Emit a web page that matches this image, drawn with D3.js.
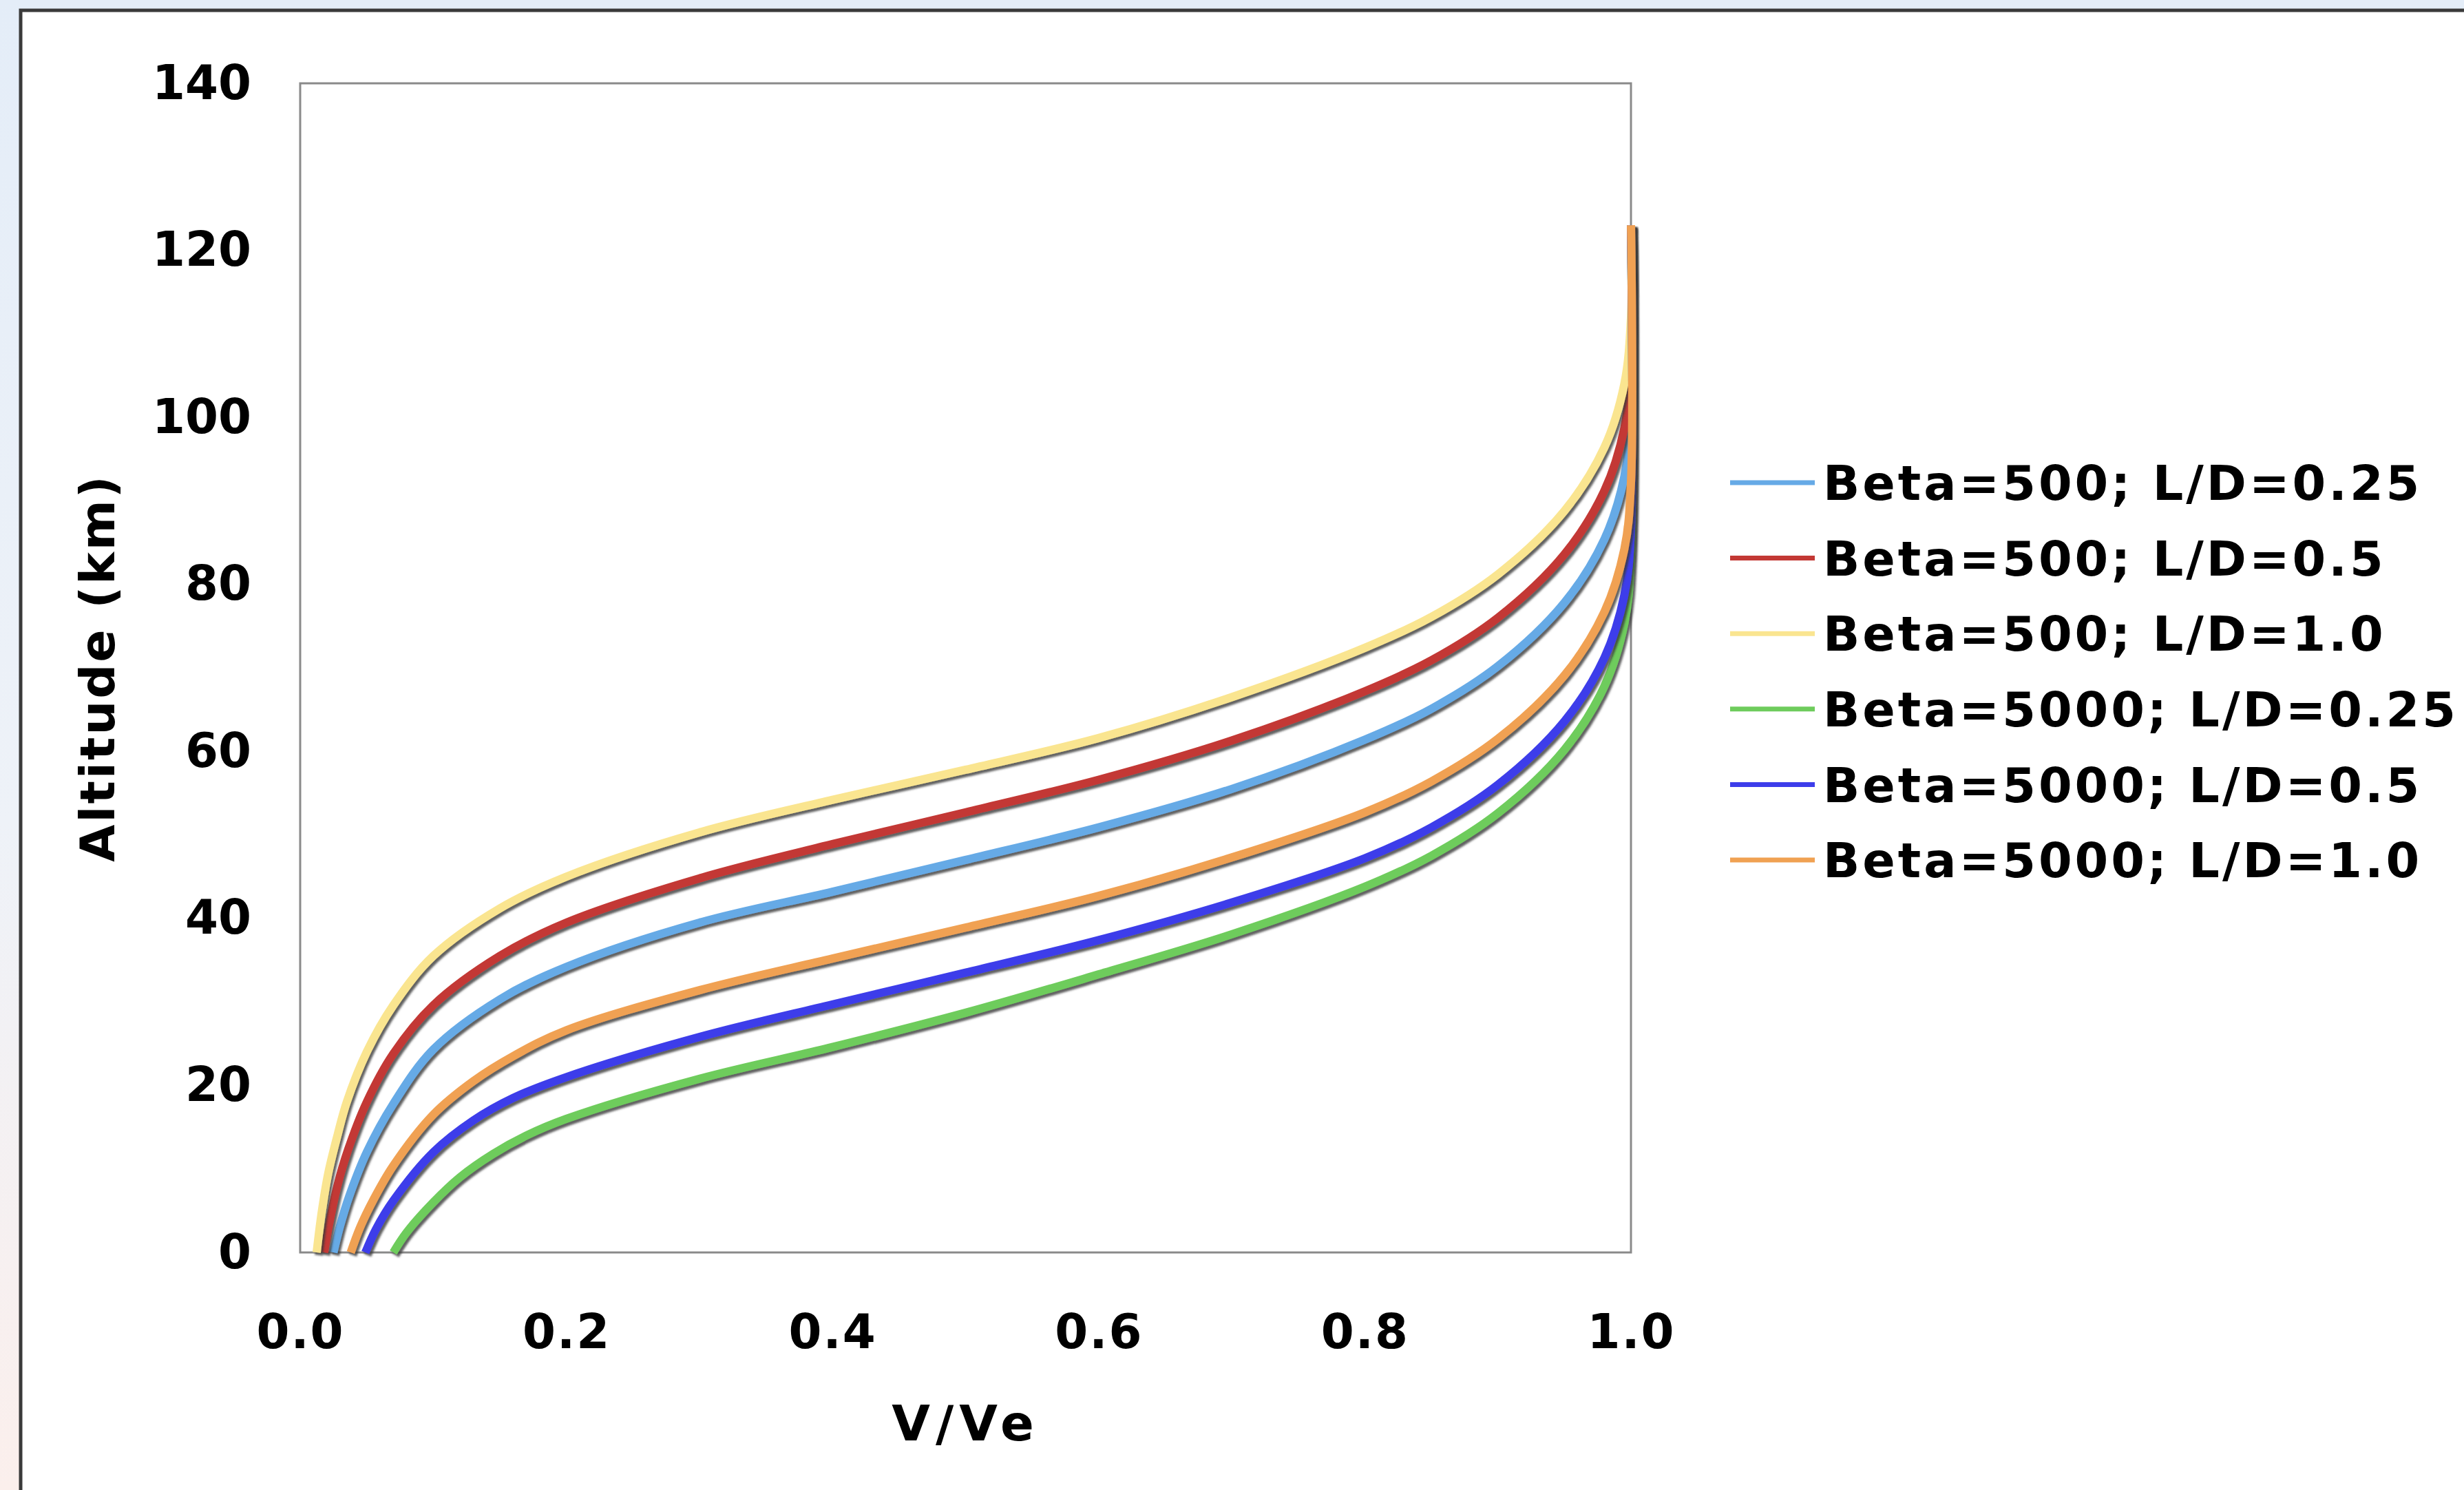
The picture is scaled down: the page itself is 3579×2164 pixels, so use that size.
<!DOCTYPE html>
<html>
<head>
<meta charset="utf-8">
<script src="https://cdn.jsdelivr.net/npm/d3@7"></script>
<style>
html, body { margin: 0; padding: 0; overflow: hidden; background: #ffffff; }
svg { display: block; }
</style>
</head>
<body>
<svg id="chart" width="3579" height="2164"></svg>
<script>
// ---------------- DATA ----------------
const seriesNames = [
  "Beta=500; L/D=0.25",
  "Beta=500; L/D=0.5",
  "Beta=500; L/D=1.0",
  "Beta=5000; L/D=0.25",
  "Beta=5000; L/D=0.5",
  "Beta=5000; L/D=1.0"
];
const seriesColors = ["#66AAE6", "#C33834", "#FAE590", "#6ECC5C", "#3D3DEA", "#F0A152"];

// V/Ve and altitude (km) pairs for each series
const vVe_B500_LD025  = [0.025, 0.030, 0.037, 0.050, 0.070, 0.100, 0.150, 0.200, 0.300, 0.400, 0.500, 0.600, 0.700, 0.800, 0.850, 0.900, 0.950, 0.980, 0.995, 1.000, 1.000];
const alt_B500_LD025  = [0.0,   3.2,   6.8,   12.0,  17.8,  24.3,  30.3,  34.2,  39.5,  43.2,  47.0,  50.9,  55.5,  61.4,  65.1,  70.2,  77.8,  85.4,  92.9,  100.9, 123.0];

const vVe_B500_LD05   = [0.018, 0.022, 0.028, 0.036, 0.050, 0.070, 0.100, 0.150, 0.200, 0.300, 0.400, 0.500, 0.600, 0.700, 0.800, 0.850, 0.900, 0.950, 0.980, 0.995, 1.000, 1.000];
const alt_B500_LD05   = [0.0,   3.6,   8.0,   12.3,  18.0,  23.8,  29.6,  35.5,  39.5,  44.8,  48.9,  52.7,  56.6,  61.3,  67.2,  70.9,  76.0,  83.6,  91.2,  98.7,  106.7, 123.0];

const vVe_B500_LD10   = [0.0124, 0.016, 0.021, 0.028, 0.035, 0.050, 0.070, 0.100, 0.150, 0.200, 0.300, 0.400, 0.500, 0.600, 0.700, 0.800, 0.850, 0.900, 0.950, 0.980, 0.995, 1.000, 1.000];
const alt_B500_LD10   = [0.0,    4.6,   9.4,   14.0,  18.0,  24.0,  29.6,  35.5,  41.2,  45.0,  50.3,  54.2,  57.8,  61.6,  66.5,  72.4,  76.1,  81.2,  88.8,  96.4,  104.0, 112.0, 123.0];

const vVe_B5000_LD025 = [0.070, 0.080, 0.100, 0.120, 0.145, 0.170, 0.200, 0.300, 0.400, 0.500, 0.600, 0.700, 0.800, 0.850, 0.900, 0.950, 0.980, 0.995, 1.000, 1.000];
const alt_B5000_LD025 = [0.0,   2.4,   6.0,   9.0,   11.8,  14.0,  16.0,  20.8,  24.6,  28.7,  33.3,  38.1,  43.8,  47.5,  52.6,  60.2,  67.8,  75.3,  83.3,  123.0];

const vVe_B5000_LD05  = [0.049, 0.057, 0.070, 0.100, 0.130, 0.160, 0.200, 0.300, 0.400, 0.500, 0.600, 0.700, 0.800, 0.850, 0.900, 0.950, 0.980, 0.995, 1.000, 1.000];
const alt_B5000_LD05  = [0.0,   2.8,   6.2,   12.0,  15.8,  18.5,  21.0,  25.8,  29.7,  33.5,  37.4,  41.9,  47.2,  50.9,  56.0,  63.6,  71.2,  78.7,  86.7,  123.0];

const vVe_B5000_LD10  = [0.038, 0.045, 0.055, 0.070, 0.100, 0.130, 0.160, 0.200, 0.300, 0.400, 0.500, 0.600, 0.700, 0.800, 0.850, 0.900, 0.950, 0.980, 0.995, 1.000, 1.000];
const alt_B5000_LD10  = [0.0,   3.0,   6.3,   10.4,  16.5,  20.5,  23.5,  26.6,  31.4,  35.2,  38.9,  42.7,  47.3,  52.7,  56.4,  61.5,  69.1,  76.7,  84.2,  92.2,  123.0];

const xTickValues = [0.0, 0.2, 0.4, 0.6, 0.8, 1.0];
const yTickValues = [0, 20, 40, 60, 80, 100, 120, 140];
const xAxisTitle = "V/Ve";
const yAxisTitle = "Altitude (km)";

const seriesX = [vVe_B500_LD025, vVe_B500_LD05, vVe_B500_LD10, vVe_B5000_LD025, vVe_B5000_LD05, vVe_B5000_LD10];
const seriesY = [alt_B500_LD025, alt_B500_LD05, alt_B500_LD10, alt_B5000_LD025, alt_B5000_LD05, alt_B5000_LD10];

// ---------------- LAYOUT ----------------
const W = 3579, H = 2164;
const plot = { left: 436, right: 2369, top: 121, bottom: 1819 };
const FONT = "'DejaVu Sans', Verdana, sans-serif";

const svg = d3.select("#chart");
const defs = svg.append("defs");

// page background gradient
const bg = defs.append("linearGradient").attr("id", "bgGrad")
  .attr("x1", "0").attr("y1", "0").attr("x2", "0").attr("y2", "1");
bg.append("stop").attr("offset", "0%").attr("stop-color", "#E4EDF8");
bg.append("stop").attr("offset", "55%").attr("stop-color", "#EEF2F8");
bg.append("stop").attr("offset", "100%").attr("stop-color", "#FBEFEC");

// drop shadow for series lines
const f = defs.append("filter").attr("id", "lineShadow")
  .attr("filterUnits", "userSpaceOnUse")
  .attr("x", 0).attr("y", 0).attr("width", W).attr("height", H);
f.append("feGaussianBlur").attr("in", "SourceAlpha").attr("stdDeviation", 1.6).attr("result", "b");
f.append("feOffset").attr("in", "b").attr("dx", 3).attr("dy", 3.5).attr("result", "o");
f.append("feFlood").attr("flood-color", "#3a3a3a").attr("flood-opacity", 0.8).attr("result", "c");
f.append("feComposite").attr("in", "c").attr("in2", "o").attr("operator", "in").attr("result", "s");
const m = f.append("feMerge");
m.append("feMergeNode").attr("in", "s");
m.append("feMergeNode").attr("in", "SourceGraphic");

svg.append("rect").attr("x", 0).attr("y", 0).attr("width", W).attr("height", H).attr("fill", "url(#bgGrad)");

// chart frame (extends past right and bottom edges)
svg.append("rect")
  .attr("x", 30).attr("y", 15).attr("width", W + 40).attr("height", H + 40)
  .attr("fill", "#ffffff").attr("stroke", "#3a3a3a").attr("stroke-width", 5);

// ---------------- SCALES & AXES ----------------
const x = d3.scaleLinear().domain([0, 1]).range([plot.left, plot.right]);
const y = d3.scaleLinear().domain([0, 140]).range([plot.bottom, plot.top]);

// plot area border
svg.append("rect")
  .attr("x", plot.left).attr("y", plot.top)
  .attr("width", plot.right - plot.left).attr("height", plot.bottom - plot.top)
  .attr("fill", "#ffffff").attr("stroke", "#8a8a8a").attr("stroke-width", 3);

const xAxis = svg.append("g")
  .attr("transform", `translate(0,${plot.bottom})`)
  .call(d3.axisBottom(x).tickValues(xTickValues).tickFormat(d3.format(".1f")).tickSize(0).tickPadding(90));
const yAxis = svg.append("g")
  .attr("transform", `translate(${plot.left},0)`)
  .call(d3.axisLeft(y).tickValues(yTickValues).tickFormat(d3.format("d")).tickSize(0).tickPadding(71));

[xAxis, yAxis].forEach(g => {
  g.select(".domain").remove();
  g.selectAll("text")
    .attr("font-family", FONT).attr("font-weight", "bold")
    .attr("font-size", 69).attr("fill", "#000");
});
xAxis.selectAll("text").attr("letter-spacing", 2);

// axis titles
svg.append("text")
  .attr("x", (plot.left + plot.right) / 2).attr("y", 2066).attr("dy", "0.36em")
  .attr("text-anchor", "middle")
  .attr("font-family", FONT).attr("font-weight", "bold").attr("font-size", 72)
  .attr("letter-spacing", 8).attr("fill", "#000")
  .text(xAxisTitle);

svg.append("text")
  .attr("transform", `translate(141,${(plot.top + plot.bottom) / 2}) rotate(-90)`)
  .attr("dy", "0.36em")
  .attr("text-anchor", "middle")
  .attr("font-family", FONT).attr("font-weight", "bold").attr("font-size", 70)
  .attr("letter-spacing", 3).attr("fill", "#000")
  .text(yAxisTitle);

// ---------------- SERIES ----------------
const line = d3.line()
  .x(d => x(d[0])).y(d => y(d[1]))
  .curve(d3.curveCatmullRom.alpha(0.5));

const seriesGroup = svg.append("g");
seriesNames.forEach((name, i) => {
  const pts = seriesX[i].map((v, k) => [v, seriesY[i][k]]);
  seriesGroup.append("path")
    .datum(pts)
    .attr("d", line)
    .attr("fill", "none")
    .attr("stroke", seriesColors[i])
    .attr("stroke-width", 12)
    .attr("stroke-linejoin", "round")
    .attr("stroke-linecap", "butt")
    .attr("filter", "url(#lineShadow)");
});

// ---------------- LEGEND ----------------
const legend = svg.append("g");
const legendY0 = 701, legendDY = 109.6;
seriesNames.forEach((name, i) => {
  const ly = legendY0 + i * legendDY;
  legend.append("line")
    .attr("x1", 2513).attr("x2", 2636).attr("y1", ly).attr("y2", ly)
    .attr("stroke", seriesColors[i]).attr("stroke-width", 7);
  legend.append("text")
    .attr("x", 2648).attr("y", ly).attr("dy", "0.36em")
    .attr("font-family", FONT).attr("font-weight", "bold").attr("font-size", 70)
    .attr("letter-spacing", 4).attr("fill", "#000")
    .text(name);
});
</script>
</body>
</html>
